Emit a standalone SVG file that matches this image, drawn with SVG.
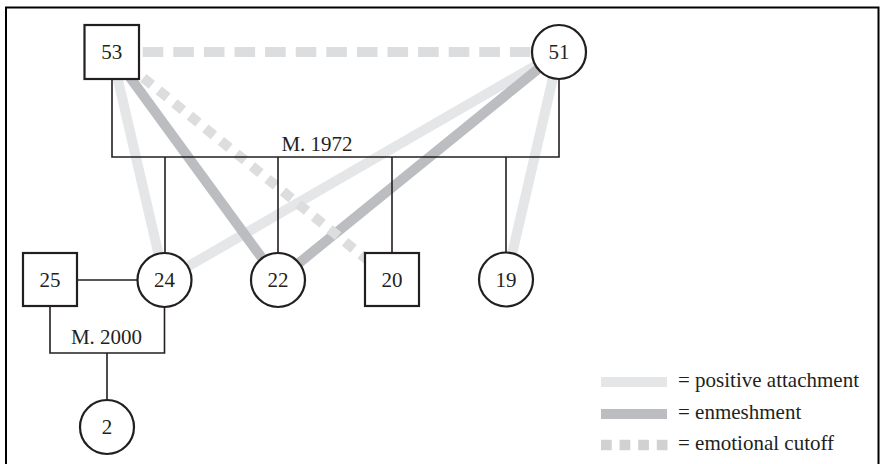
<svg xmlns="http://www.w3.org/2000/svg" width="880" height="464" viewBox="0 0 880 464">
<style>
text{font-family:"Liberation Serif","Times New Roman",serif;font-size:21px;fill:#231f20;text-anchor:middle}
.lbl{text-anchor:start}
.node{fill:#fff;stroke:#231f20;stroke-width:2.2}
.fam{fill:none;stroke:#231f20;stroke-width:1.6}
.pos{stroke:#e5e6e7;stroke-width:10;fill:none}
.enm{stroke:#bcbdc0;stroke-width:10;fill:none}
.cut{stroke:#dcdddf;stroke-width:10;fill:none}
</style>
<rect width="880" height="464" fill="#fff"/>
<path d="M6,464 V7.5 H878.5 V464" fill="none" stroke="#000" stroke-width="2"/>
<g id="connectors">
<g id="relationships">
<line class="pos" x1="111.5" y1="52" x2="164.5" y2="280"/>
<line class="pos" x1="559" y1="52" x2="164.5" y2="280"/>
<line class="pos" x1="559" y1="52" x2="506" y2="280"/>
<line class="enm" x1="111.5" y1="52" x2="278" y2="280"/>
<line class="enm" x1="559" y1="52" x2="278" y2="280"/>
<line class="cut" x1="142.7" y1="52" x2="532" y2="52" stroke-dasharray="20.6 10"/>
<line class="cut" x1="111.5" y1="52" x2="392" y2="280" stroke-dasharray="11 9" stroke-dashoffset="-1"/>
</g>
<g id="family-lines">
<path class="fam" d="M112,79 V157 H559 V79"/>
<path class="fam" d="M165,157 V253 M278,157 V253 M392,157 V253 M506,157 V253"/>
<path class="fam" d="M77,280 H138"/>
<path class="fam" d="M50,306 V353 H164.5 V307 M107,353 V401"/>
</g>
</g>
<text x="317" y="151">M. 1972</text>
<text x="106.5" y="344">M. 2000</text>
<g id="n53"><rect class="node" x="84.5" y="25" width="54.5" height="54"/><text x="111.8" y="59">53</text></g>
<g id="n51"><circle class="node" cx="559" cy="52" r="27"/><text x="559" y="59">51</text></g>
<g id="n25"><rect class="node" x="23" y="253" width="54" height="53"/><text x="50" y="287">25</text></g>
<g id="n24"><circle class="node" cx="164.5" cy="280" r="27"/><text x="164.5" y="287">24</text></g>
<g id="n22"><circle class="node" cx="278" cy="280" r="27"/><text x="278" y="287">22</text></g>
<g id="n20"><rect class="node" x="365" y="253" width="54" height="53"/><text x="392" y="287">20</text></g>
<g id="n19"><circle class="node" cx="506" cy="279.5" r="27"/><text x="506" y="287">19</text></g>
<g id="n2"><circle class="node" cx="107" cy="427" r="27"/><text x="107" y="434">2</text></g>
<g id="legend">
<line class="pos" x1="601" y1="382" x2="667" y2="382"/>
<text class="lbl" x="678" y="387">= positive attachment</text>
<line class="enm" x1="601" y1="414" x2="667" y2="414"/>
<text class="lbl" x="678" y="418.5">= enmeshment</text>
<line x1="601" y1="445" x2="668" y2="445" stroke="#d0d1d3" stroke-width="10.7" stroke-dasharray="10.7 7.9"/>
<text class="lbl" x="678" y="450">= emotional cutoff</text>
</g>
</svg>
